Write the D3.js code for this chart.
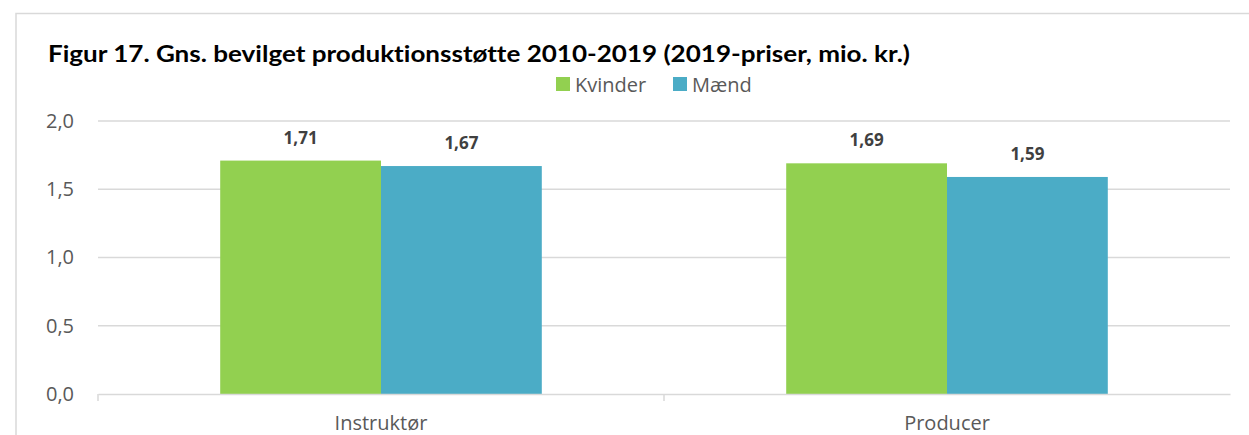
<!DOCTYPE html>
<html>
<head>
<meta charset="utf-8">
<script src="https://cdn.jsdelivr.net/npm/d3@7"></script>
<style>
  body { margin: 0; background: #fff; }
  svg { display: block; }
  text { font-variant-ligatures: none; }
</style>
</head>
<body>
<script>
// data
const categories = ["Instruktør", "Producer"];
const seriesNames = ["Kvinder", "Mænd"];
const kvinder = [1.71, 1.69];
const maend = [1.67, 1.59];
const yTicks = [0, 0.5, 1.0, 1.5, 2.0];
const colors = ["#92D050", "#4BACC6"];

const W = 1249, H = 435;
const margin = { top: 121, right: 19, bottom: 41, left: 98 };
const width = W - margin.left - margin.right,
    height = H - margin.top - margin.bottom;

const svg = d3.select("body").append("svg")
    .attr("width", W)
    .attr("height", H);

// outer chart frame
svg.append("path")
    .attr("d", "M16,435 L16,13.5 L1249,13.5")
    .attr("fill", "none")
    .attr("stroke", "#d9d9d9")
    .attr("stroke-width", 1.5);

svg.append("text")
    .attr("x", 48).attr("y", 62)
    .attr("font-family", "Lato, sans-serif")
    .attr("font-weight", "bold")
    .attr("font-size", 23)
    .attr("fill", "#000")
    .attr("textLength", 862)
    .attr("lengthAdjust", "spacingAndGlyphs")
    .text("Figur 17. Gns. bevilget produktionsstøtte 2010-2019 (2019-priser, mio. kr.)");

const g = svg.append("g")
    .attr("transform", "translate(" + margin.left + "," + margin.top + ")");

const x0 = d3.scaleBand().domain(categories).range([0, width]).paddingInner(0).paddingOuter(0);
const x1 = d3.scaleBand().domain(seriesNames).range([0, x0.bandwidth()]).paddingInner(0).paddingOuter(0.76);
const y = d3.scaleLinear().domain([0, 2]).range([height, 0]);

// gridlines
g.selectAll(".grid")
    .data(yTicks.filter(d => d > 0))
    .enter().append("line")
    .attr("x1", 0).attr("x2", width)
    .attr("y1", d => y(d)).attr("y2", d => y(d))
    .attr("stroke", "#d9d9d9")
    .attr("stroke-width", 1.5);

// y axis labels
const yAxis = d3.axisLeft(y).tickValues(yTicks).tickSize(0).tickPadding(24)
    .tickFormat(d => d3.format(".1f")(d).replace(".", ","));
const ya = g.append("g").call(yAxis);
ya.select(".domain").remove();
ya.selectAll("text")
    .attr("font-family", "'Open Sans', sans-serif")
    .attr("font-size", 20)
    .attr("fill", "#595959");

// bars
const rows = categories.map((c, i) => ({ cat: c, vals: [kvinder[i], maend[i]] }));
const groups = g.selectAll(".grp")
    .data(rows)
    .enter().append("g")
    .attr("transform", d => "translate(" + x0(d.cat) + ",0)");

groups.selectAll("rect")
    .data(d => d.vals.map((v, j) => ({ key: seriesNames[j], v: v, j: j })))
    .enter().append("rect")
    .attr("x", d => x1(d.key))
    .attr("y", d => y(d.v))
    .attr("width", x1.bandwidth())
    .attr("height", d => height - y(d.v))
    .attr("fill", d => colors[d.j]);

groups.selectAll(".lbl")
    .data(d => d.vals.map((v, j) => ({ key: seriesNames[j], v: v })))
    .enter().append("text")
    .attr("x", d => x1(d.key) + x1.bandwidth() / 2)
    .attr("y", d => y(d.v) - 17)
    .attr("text-anchor", "middle")
    .attr("font-family", "'Open Sans', sans-serif")
    .attr("font-weight", "bold")
    .attr("font-size", 17)
    .attr("fill", "#404040")
    .text(d => d3.format(".2f")(d.v).replace(".", ","));

// x axis
const xAxis = d3.axisBottom(x0).tickSize(0).tickPadding(22);
const xa = g.append("g").attr("transform", "translate(0," + height + ")").call(xAxis);
xa.select(".domain").attr("stroke", "#d9d9d9").attr("stroke-width", 1.5);
xa.selectAll("text")
    .attr("font-family", "'Open Sans', sans-serif")
    .attr("font-size", 20)
    .attr("fill", "#595959");
// category separators
g.selectAll(".sep")
    .data([0, width / 2])
    .enter().append("line")
    .attr("x1", d => d).attr("x2", d => d)
    .attr("y1", height).attr("y2", height + 7)
    .attr("stroke", "#d9d9d9").attr("stroke-width", 1.5);

// legend
const legend = svg.append("g").attr("transform", "translate(556,77)");
const lx = [0, 117];
seriesNames.forEach((s, i) => {
    legend.append("rect")
        .attr("x", lx[i]).attr("y", 0)
        .attr("width", 14).attr("height", 14)
        .attr("fill", colors[i]);
    legend.append("text")
        .attr("x", lx[i] + 19).attr("y", 15)
        .attr("font-family", "'Open Sans', sans-serif")
        .attr("font-size", 20)
        .attr("fill", "#595959")
        .text(s);
});
</script>
</body>
</html>
